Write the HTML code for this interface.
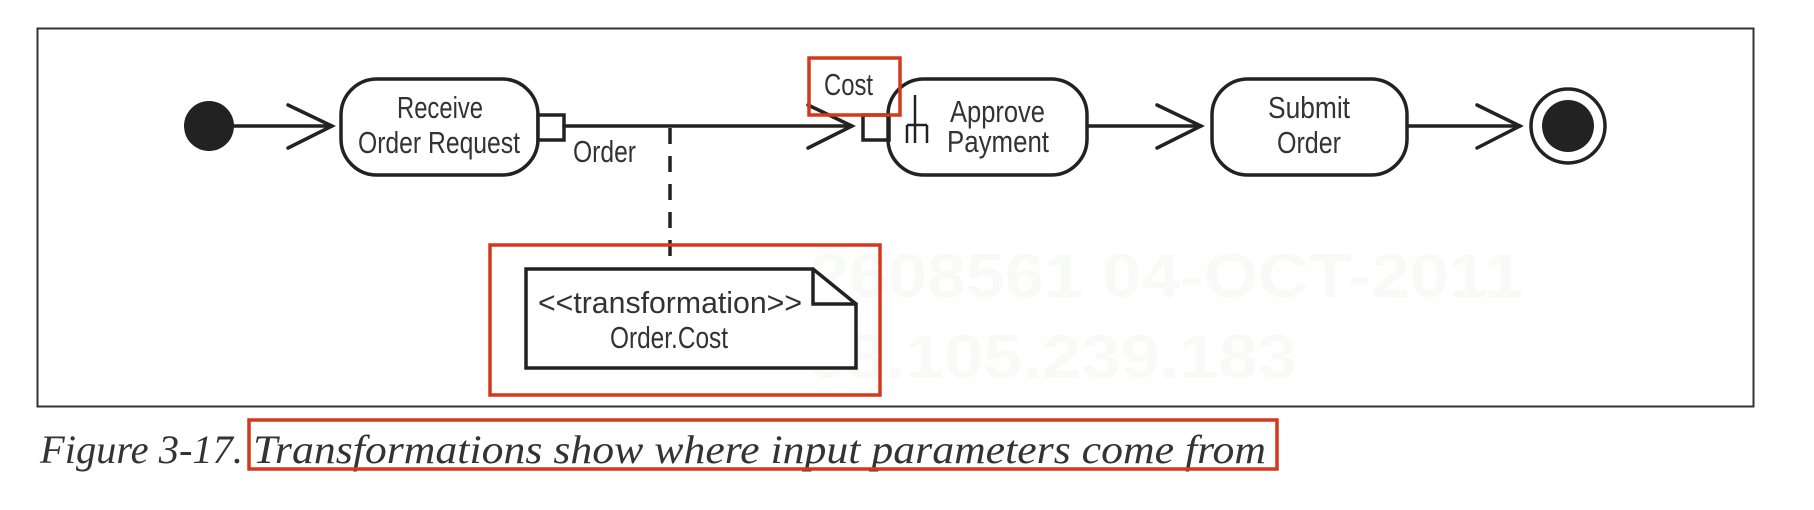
<!DOCTYPE html>
<html><head><meta charset="utf-8"><style>
html,body{margin:0;padding:0;background:#fff;}
svg{display:block;}
</style></head><body>
<svg width="1814" height="510" viewBox="0 0 1814 510" xmlns="http://www.w3.org/2000/svg">
<rect x="0" y="0" width="1814" height="510" fill="#fff"/>
<!-- watermark -->
<g font-family="Liberation Sans, sans-serif" font-weight="bold" fill="#f8faf8">
<text x="810" y="297" font-size="62" textLength="713" lengthAdjust="spacingAndGlyphs">2608561 04-OCT-2011</text>
<text x="807" y="378" font-size="62" textLength="490" lengthAdjust="spacingAndGlyphs">68.105.239.183</text>
</g>
<!-- frame -->
<rect x="37.5" y="28.5" width="1716" height="378" fill="none" stroke="#333" stroke-width="2"/>
<g stroke="#222" stroke-width="3.5" fill="none" stroke-linecap="round">
<circle cx="209" cy="126" r="25" fill="#222" stroke="none"/>
<line x1="230" y1="126" x2="332" y2="126"/>
<polyline points="288,105 332,126 288,148"/>
<rect x="341" y="79" width="197" height="96" rx="36" ry="36"/>
<rect x="538" y="115" width="26" height="25" fill="#fff"/>
<line x1="564" y1="126" x2="852" y2="126"/>
<polyline points="808,105 852,126 808,148"/>
<rect x="863" y="115" width="26" height="25" fill="#fff"/>
<rect x="888" y="79" width="199" height="96" rx="36" ry="36"/>
<g stroke-width="2.5" stroke-linecap="butt">
<line x1="915" y1="95" x2="915" y2="143"/>
<line x1="907" y1="125" x2="927" y2="125"/>
<line x1="907" y1="125" x2="907" y2="143"/>
<line x1="927" y1="125" x2="927" y2="143"/>
</g>
<line x1="1087" y1="126" x2="1201" y2="126"/>
<polyline points="1157,105 1201,126 1157,148"/>
<rect x="1212" y="79" width="195" height="96" rx="36" ry="36"/>
<line x1="1407" y1="126" x2="1520" y2="126"/>
<polyline points="1477,105 1520,126 1477,148"/>
<circle cx="1568" cy="126" r="37" stroke-width="3.5"/>
<circle cx="1568" cy="126" r="26" fill="#222" stroke="none"/>
<line x1="670" y1="128" x2="670" y2="268" stroke-dasharray="16,12" stroke-linecap="butt"/>
<path d="M526,269 L813,269 L856,304 L856,368 L526,368 Z" fill="#fff" stroke-linejoin="miter"/>
<polyline points="813,269 813,304 856,304"/>
</g>
<g font-family="Liberation Sans, sans-serif" fill="#333" font-size="31">
<text x="440" y="118" text-anchor="middle" textLength="86" lengthAdjust="spacingAndGlyphs">Receive</text>
<text x="358" y="153" textLength="162" lengthAdjust="spacingAndGlyphs">Order Request</text>
<text x="573" y="162" textLength="63" lengthAdjust="spacingAndGlyphs">Order</text>
<text x="824" y="95" textLength="49" lengthAdjust="spacingAndGlyphs">Cost</text>
<text x="950" y="122" textLength="95" lengthAdjust="spacingAndGlyphs">Approve</text>
<text x="947" y="152" textLength="102" lengthAdjust="spacingAndGlyphs">Payment</text>
<text x="1268" y="118" textLength="82" lengthAdjust="spacingAndGlyphs">Submit</text>
<text x="1277" y="153" textLength="64" lengthAdjust="spacingAndGlyphs">Order</text>
<text x="538" y="313" textLength="264" lengthAdjust="spacingAndGlyphs">&lt;&lt;transformation&gt;&gt;</text>
<text x="610" y="348" textLength="118" lengthAdjust="spacingAndGlyphs">Order.Cost</text>
</g>
<g font-family="Liberation Serif, serif" font-style="italic" fill="#333" font-size="40">
<text x="40" y="463" textLength="203" lengthAdjust="spacingAndGlyphs">Figure 3-17.</text>
<text x="253" y="463" textLength="1013" lengthAdjust="spacingAndGlyphs">Transformations show where input parameters come from</text>
</g>
<g fill="none" stroke="#d4391f" stroke-width="3.5">
<rect x="809" y="58" width="91" height="57"/>
<rect x="490" y="245" width="390" height="150"/>
<rect x="249" y="420" width="1028" height="49"/>
</g>
</svg>
</body></html>
